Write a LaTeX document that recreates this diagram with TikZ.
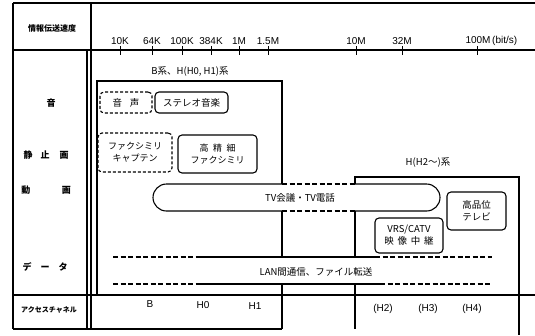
\documentclass[tikz,border=0pt]{standalone}
\usepackage{fontspec}
\setmainfont{Liberation Sans}
\newfontfamily\jp{Noto Sans CJK JP}
\begin{document}
\begin{tikzpicture}[x=1pt,y=-1pt,line width=1.1pt,
  every node/.style={inner sep=0pt,font=\jp\fontsize{9.5}{12}\selectfont},
  box/.style={draw,rounded corners=4pt,align=center},
  dbox/.style={box,dash pattern=on 3pt off 2pt},
  lbl/.style={font=\fontsize{10}{12}\selectfont},
  rowlbl/.style={font=\jp\bfseries\fontsize{9}{10}\selectfont},
  dsh/.style={dash pattern=on 5pt off 2.5pt},
  tk/.style={line width=0.9pt}]
\useasboundingbox (0,0) rectangle (535,335);
% frame
\draw (13,3) -- (535,3);
\draw (13,3) -- (13,329);
\draw (13,50) -- (535,50);
\draw (91,3) -- (91,50);
\draw (87,50) -- (87,329);
\draw (91,50) -- (91,329);
\draw (13,295) -- (535,295);
\draw (13,329) -- (282,329);
% axis ticks and labels
\foreach \x/\t/\n in {120/10K/a,152/64K/b,182/100K/c,211/384K/d,239/1M/e,268/1.5M/f,356/10M/g,402/32M/h}{
  \draw[tk] (\x,46) -- (\x,55);
  \node[lbl] (t\n) at (\x,41) {\t};
}
\draw[tk] (477,46) -- (477,55);
\node[lbl,anchor=west] (ti) at (465,41) {100M\,(bit/s)};
% header and row labels
\node[rowlbl,font=\jp\bfseries\fontsize{8}{8}\selectfont] (hdr) at (52,28) {情報伝送速度};
\node[rowlbl] (r1) at (51,103) {音};
\node[rowlbl] (r2) at (46,155) {静\hspace{0.9em}止\hspace{1.1em}画};
\node[rowlbl] (r3) at (46,190) {動\hspace{3.5em}画};
\node[rowlbl] (r4) at (45,267) {デ\hspace{1em}ー\hspace{1em}タ};
\node[rowlbl,font=\jp\bfseries\fontsize{7}{8}\selectfont] (r5) at (49,310) {アクセスチャネル};
% B box
\draw (97,295) -- (97,81) -- (282,81) -- (282,184);
\draw (282,211) -- (282,257) (282,284) -- (282,329);
\node (blbl) at (190,72) {B系、H(H0, H1)系};
% H box
\draw (355,184) -- (355,177) -- (519,177) -- (519,335);
\draw (355,211) -- (355,257) (355,284) -- (355,329);
\node (hlbl) at (428,163) {H(H2〜)系};
% sound
\node[dbox,minimum width=52pt,minimum height=21pt] (onsei) at (126,102.5) {音\hspace{0.8em}声};
\node[box,minimum width=73pt,minimum height=21pt] (stereo) at (191.5,102.5) {ステレオ音楽};
% still image
\node[dbox,minimum width=74pt,minimum height=39pt,font=\jp\fontsize{9}{12}\selectfont] (fax) at (135,152.5) {ファクシミリ\\キャプテン};
\node[box,minimum width=79pt,minimum height=38pt,font=\jp\fontsize{9}{12}\selectfont] (hdfax) at (217.5,154) {高\hspace{0.5em}精\hspace{0.5em}細\\ファクシミリ};
% TV pill
\node (tv) at (300,197.5) {TV会議・TV電話};
\draw[rounded corners=13.5pt] (282,184) -- (153,184) -- (153,211) -- (282,211);
\draw[dsh] (282,184) -- (355,184) (282,211) -- (355,211);
\draw[rounded corners=13.5pt] (355,184) -- (440,184) -- (440,211) -- (355,211);
% HDTV, VRS
\node[box,minimum width=59pt,minimum height=38pt] (hdtv) at (476.5,211) {高品位\\テレビ};
\node[box,minimum width=68pt,minimum height=35pt] (vrs) at (409,235.5) {VRS/CATV\\映\hspace{0.4em}像\hspace{0.4em}中\hspace{0.4em}継};
% LAN
\draw[dsh] (113,257) -- (200,257);
\draw (200,257) -- (375,257);
\draw[dsh] (375,257) -- (492,257);
\draw[dsh] (113,284) -- (200,284);
\draw (200,284) -- (380,284);
\draw[dsh] (380,284) -- (492,284);
\node (lan) at (316,272) {LAN間通信、ファイル転送};
% access channels
\node[lbl] (aB) at (150,304) {B};
\node[lbl] (aH0) at (203,305) {H0};
\node[lbl] (aH1) at (255,306) {H1};
\node[lbl] (aH2) at (383,309) {(H2)};
\node[lbl] (aH3) at (428,309) {(H3)};
\node[lbl] (aH4) at (472,309) {(H4)};
\end{tikzpicture}
\end{document}
